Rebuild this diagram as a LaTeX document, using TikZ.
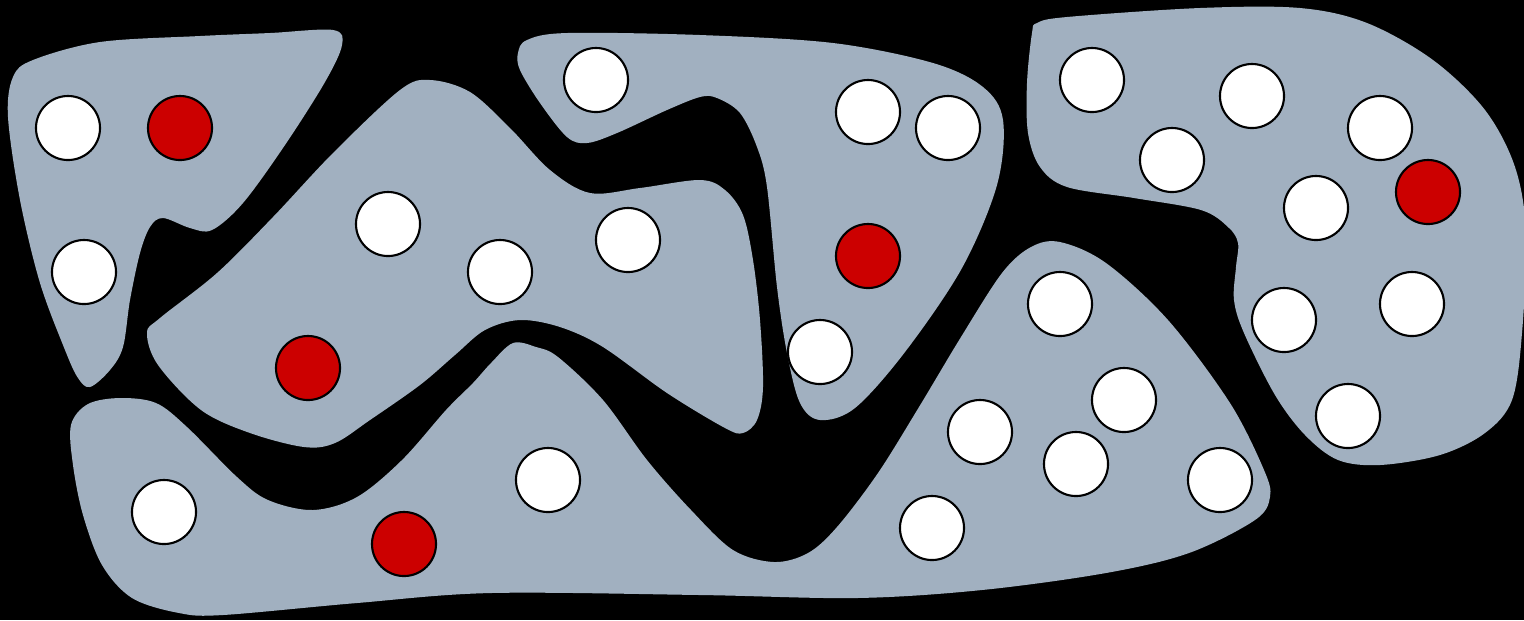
\documentclass[tikz,border=0pt]{standalone}
\usepackage{tikz}
\usetikzlibrary{positioning}
\definecolor{regiongray}{RGB}{161,176,192}
\definecolor{dotred}{RGB}{204,0,0}

\begin{document}
\begin{tikzpicture}[x=0.01cm, y=-0.01cm,
    dot/.style={draw, circle, line width=0.6pt, minimum size=0.64cm, inner sep=0pt},
    whitedot/.style={dot, fill=white},
    reddot/.style={dot, fill=dotred}]
    % Black background, pixel frame 1524 x 620
    \fill[black] (0,0) rectangle (1524,620);
    \useasboundingbox (0,0) rectangle (1524,620);
    % Gray regions
    \fill[regiongray] plot[smooth cycle, tension=0.55] coordinates {(13,77) (33,60) (100,42) (200,36) (270,33) (333,30) (342,45) (325,82) (285,145) (243,203) (212,230) (190,228) (163,218) (150,227) (140,253) (130,300) (123,347) (110,370) (90,387) (78,378) (65,350) (40,283) (20,200) (8,117)};
    \fill[regiongray] plot[smooth cycle, tension=0.55] coordinates {(147,333) (160,318) (217,273) (273,217) (333,153) (400,90) (430,80) (470,92) (510,128) (550,170) (590,193) (640,188) (700,180) (725,190) (743,215) (753,260) (760,320) (763,387) (757,420) (743,433) (725,428) (667,393) (603,347) (560,327) (520,320) (485,330) (455,355) (420,385) (370,420) (335,443) (304,447) (250,433) (201,410) (158,365)};
    \fill[regiongray] plot[smooth cycle, tension=0.55] coordinates {(518,53) (527,40) (567,33) (700,35) (833,43) (933,63) (983,87) (1003,120) (997,185) (962,268) (905,352) (855,408) (820,420) (800,403) (787,353) (777,287) (767,187) (757,147) (740,113) (717,98) (700,97) (667,110) (617,133) (587,143) (567,137) (540,103) (520,70)};
    \fill[regiongray] plot[smooth cycle, tension=0.55] coordinates {(71,425) (88,404) (120,398) (156,403) (187,427) (237,477) (268,500) (313,510) (357,497) (402,460) (446,410) (473,383) (491,363) (513,343) (536,347) (558,357) (603,400) (647,460) (691,510) (733,550) (774,562) (808,553) (837,527) (878,473) (919,407) (961,337) (1002,273) (1031,247) (1060,242) (1106,263) (1168,320) (1230,403) (1264,470) (1270,497) (1255,520) (1189,553) (1106,573) (982,590) (857,598) (700,595) (491,593) (357,603) (223,615) (179,613) (132,598) (102,565) (83,515) (73,465)};
    \fill[regiongray] plot[smooth cycle, tension=0.55] coordinates {(1037,23) (1067,17) (1200,8) (1300,8) (1367,23) (1433,60) (1485,110) (1515,167) (1526,233) (1522,333) (1512,400) (1485,433) (1440,455) (1380,465) (1338,460) (1305,435) (1275,395) (1244,333) (1234,300) (1236,267) (1238,243) (1228,227) (1201,210) (1134,198) (1067,187) (1040,167) (1028,133) (1027,83) (1032,33)};
    % Top-left region
    \node[whitedot] (a1) at (68,128) {};
    \node[reddot] (a2) at (180,128) {};
    \node[whitedot] (a3) at (84,272) {};
    % Middle-left region
    \node[whitedot] (b1) at (388,224) {};
    \node[whitedot] (b2) at (500,272) {};
    \node[whitedot] (b3) at (628,240) {};
    \node[reddot] (b4) at (308,368) {};
    % Top-middle region
    \node[whitedot] (c1) at (596,80) {};
    \node[whitedot] (c2) at (868,112) {};
    \node[whitedot] (c3) at (948,128) {};
    \node[reddot] (c4) at (868,256) {};
    \node[whitedot] (c5) at (820,352) {};
    % Bottom region
    \node[whitedot] (d1) at (164,512) {};
    \node[reddot] (d2) at (404,544) {};
    \node[whitedot] (d3) at (548,480) {};
    \node[whitedot] (d4) at (1060,304) {};
    \node[whitedot] (d5) at (1124,400) {};
    \node[whitedot] (d6) at (980,432) {};
    \node[whitedot] (d7) at (1076,464) {};
    \node[whitedot] (d8) at (1220,480) {};
    \node[whitedot] (d9) at (932,528) {};
    % Right region
    \node[whitedot] (e1) at (1092,80) {};
    \node[whitedot] (e2) at (1252,96) {};
    \node[whitedot] (e3) at (1380,128) {};
    \node[whitedot] (e4) at (1172,160) {};
    \node[whitedot] (e5) at (1316,208) {};
    \node[reddot] (e6) at (1428,192) {};
    \node[whitedot] (e7) at (1284,320) {};
    \node[whitedot] (e8) at (1412,304) {};
    \node[whitedot] (e9) at (1348,416) {};
\end{tikzpicture}
\end{document}
